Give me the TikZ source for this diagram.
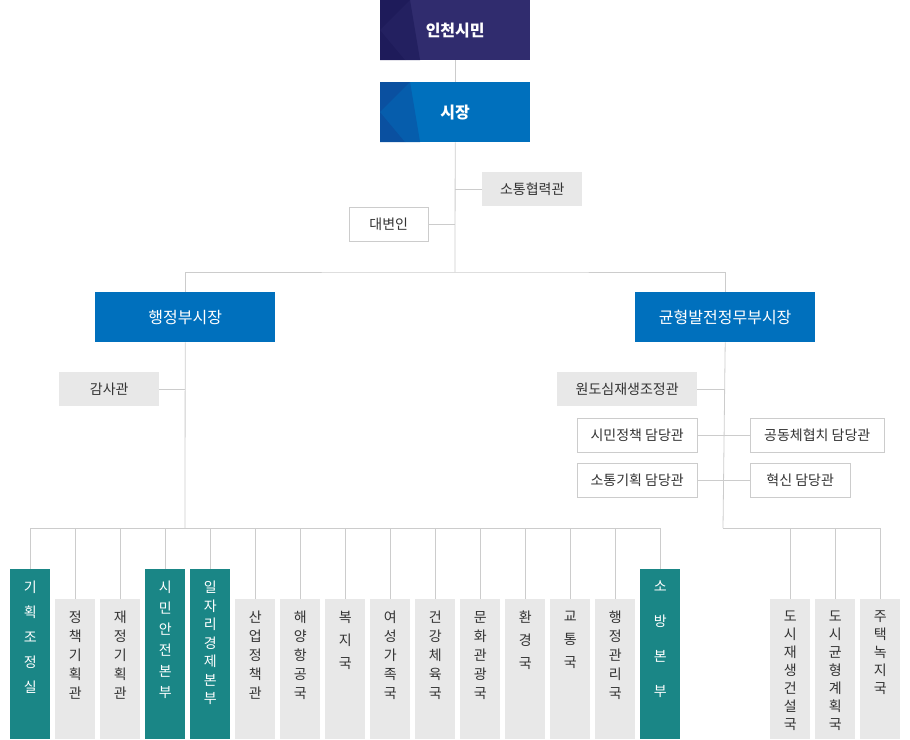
\documentclass[tikz,border=0pt]{standalone}
\usepackage{fontspec}
\setmainfont{Noto Sans CJK KR}
\usetikzlibrary{calc}
\definecolor{navy}{HTML}{302C6E}
\definecolor{navydark}{HTML}{1E1B5A}
\definecolor{blueone}{HTML}{0070BD}
\definecolor{bluedark}{HTML}{0A50A0}
\definecolor{tealbox}{HTML}{1A8686}
\definecolor{greybox}{HTML}{E8E8E8}
\definecolor{greyline}{HTML}{CCCCCC}
\definecolor{txt}{HTML}{333333}
\tikzset{
  topbox/.style={minimum width=150pt,minimum height=60pt,inner sep=0pt,text=white,font=\fontsize{16}{18}\selectfont\bfseries},
  vicebox/.style={fill=blueone,minimum width=180pt,minimum height=50pt,inner sep=0pt,text=white,font=\fontsize{16}{18}\selectfont},
  staffbox/.style={fill=greybox,minimum height=34pt,inner sep=0pt,text=txt,font=\fontsize{14}{16}\selectfont},
  officebox/.style={draw=greyline,fill=white,minimum height=34pt,inner sep=0pt,text=txt,font=\fontsize{14}{16}\selectfont},
  colbox/.style={minimum width=40pt,inner sep=0pt,anchor=north west},
  coltext/.style={anchor=north,align=center,inner sep=0pt},
  link/.style={draw=greyline,line width=0.8pt}
}
\begin{document}
\begin{tikzpicture}[x=1pt,y=-1pt]
  \useasboundingbox (0,0) rectangle (910,739);

  % top of the chart
  \node[topbox,fill=navy,anchor=north west] (citizen) at (380,0) {};
  \fill[navydark] (380,0) -- (410,0) -- (405,60) -- (380,60) -- cycle;
  \fill[navydark!70!navy] (380,30) -- (405,60) -- (420,60) -- (410,0) -- cycle;
  \node[text=white,font=\fontsize{16}{18}\selectfont\bfseries] at (citizen.center) {인천시민};
  \node[topbox,fill=blueone,anchor=north west] (mayor) at (380,82) {};
  \fill[bluedark] (380,82) -- (410,82) -- (405,142) -- (380,142) -- cycle;
  \fill[bluedark!60!blueone] (380,112) -- (405,142) -- (420,142) -- (410,82) -- cycle;
  \node[text=white,font=\fontsize{16}{18}\selectfont\bfseries] at (mayor.center) {시장};
  \draw[link] (citizen.south) -- (mayor.north);

  \node[staffbox,minimum width=100pt,anchor=north west] (comm) at (482,172) {소통협력관};
  \node[officebox,minimum width=79pt,anchor=north west] (spokes) at (349,207) {대변인};
  \coordinate (bar) at (455,272);
  \draw[link] (mayor.south) -- (bar);
  \draw[link] (comm.west) -- (comm.west -| mayor.south);
  \draw[link] (spokes.east) -- (spokes.east -| mayor.south);

  % vice mayors
  \node[vicebox,anchor=north west] (admin) at (95,292) {행정부시장};
  \node[vicebox,anchor=north west] (balance) at (635,292) {균형발전정무부시장};
  \draw[link] (admin.north) |- (bar) -| (balance.north);

  \node[staffbox,minimum width=100pt,anchor=north west] (audit) at (59,372) {감사관};
  \draw[link] (audit.east) -- (audit.east -| admin.south);
  \coordinate (lbar) at (185,528);
  \coordinate (rbar) at (723,528);
  \draw[link] (admin.south) -- (lbar);
  \draw[link] (balance.south) -- (rbar);

  \node[staffbox,minimum width=140pt,anchor=north west] (urban) at (557,372) {원도심재생조정관};
  \node[officebox,minimum width=120pt,anchor=north west] (policy) at (577,418) {시민정책 담당관};
  \node[officebox,minimum width=120pt,anchor=north west] (plan) at (577,463) {소통기획 담당관};
  \node[officebox,minimum width=134pt,anchor=north west] (commu) at (750,418) {공동체협치 담당관};
  \node[officebox,minimum width=100pt,anchor=north west] (innov) at (750,463) {혁신 담당관};
  \draw[link] (urban.east) -- (urban.east -| balance.south);
  \draw[link] (policy) -- (commu);
  \draw[link] (plan) -- (innov);

  % bureaus
  \foreach \xx/\lab/\fillc/\topy/\sp/\tc [count=\i] in {
      10/{기\\획\\조\\정\\실}/tealbox/569/25/white,
      55/{정\\책\\기\\획\\관}/greybox/599/19/txt,
      100/{재\\정\\기\\획\\관}/greybox/599/19/txt,
      145/{시\\민\\안\\전\\본\\부}/tealbox/569/21/white,
      190/{일\\자\\리\\경\\제\\본\\부}/tealbox/569/18.5/white,
      235/{산\\업\\정\\책\\관}/greybox/599/19/txt,
      280/{해\\양\\항\\공\\국}/greybox/599/19/txt,
      325/{복\\지\\국}/greybox/599/23/txt,
      370/{여\\성\\가\\족\\국}/greybox/599/19/txt,
      415/{건\\강\\체\\육\\국}/greybox/599/19/txt,
      460/{문\\화\\관\\광\\국}/greybox/599/19/txt,
      505/{환\\경\\국}/greybox/599/23/txt,
      550/{교\\통\\국}/greybox/599/23/txt,
      595/{행\\정\\관\\리\\국}/greybox/599/19/txt,
      640/{소\\방\\본\\부}/tealbox/569/35/white}{
    \node[colbox,fill=\fillc,minimum height={739-\topy}] (bu\i) at (\xx,\topy) {};
    \node[coltext,text=\tc,font=\fontsize{14}{\sp}\selectfont] (bt\i) at ($(bu\i.north)+(0,12)$) {\lab};
    \draw[link] (bu\i.north) -- (bu\i.north |- lbar);
  }
  \draw[link] (bu1.north |- lbar) -- (bu15.north |- lbar);

  \foreach \xx/\lab [count=\i] in {
      770/{도\\시\\재\\생\\건\\설\\국},
      815/{도\\시\\균\\형\\계\\획\\국},
      860/{주\\택\\녹\\지\\국}}{
    \node[colbox,fill=greybox,minimum height=140] (rb\i) at (\xx,599) {};
    \node[coltext,text=txt,font=\fontsize{14}{18}\selectfont] (rt\i) at ($(rb\i.north)+(0,12)$) {\lab};
    \draw[link] (rb\i.north) -- (rb\i.north |- rbar);
  }
  \draw[link] (rbar) -- (rb3.north |- rbar);
\end{tikzpicture}
\end{document}
